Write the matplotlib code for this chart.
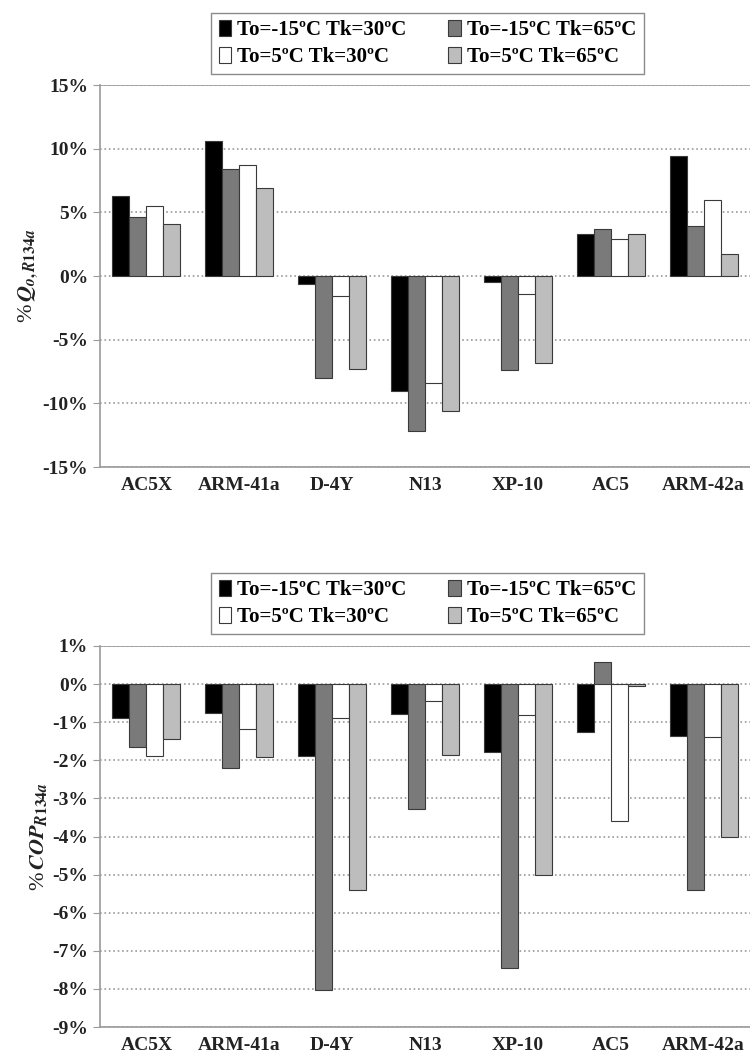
import numpy as np
import matplotlib
matplotlib.use('Agg')
import matplotlib.pyplot as plt
from matplotlib.ticker import FuncFormatter, MultipleLocator

# datos
refrigerantes = ['AC5X', 'ARM-41a', 'D-4Y', 'N13', 'XP-10', 'AC5', 'ARM-42a']
series = ['To=-15ºC Tk=30ºC', 'To=-15ºC Tk=65ºC', 'To=5ºC Tk=30ºC', 'To=5ºC Tk=65ºC']

# %Q_o respecto a R134a
q_m15_30 = [6.3, 10.6, -0.6, -9.0, -0.5, 3.3, 9.4]
q_m15_65 = [4.6, 8.4, -8.0, -12.2, -7.4, 3.7, 3.9]
q_5_30 = [5.5, 8.7, -1.6, -8.4, -1.4, 2.9, 6.0]
q_5_65 = [4.1, 6.9, -7.3, -10.6, -6.8, 3.3, 1.7]

# %COP respecto a R134a
cop_m15_30 = [-0.89, -0.76, -1.89, -0.78, -1.77, -1.26, -1.37]
cop_m15_65 = [-1.64, -2.21, -8.04, -3.29, -7.44, 0.59, -5.40]
cop_5_30 = [-1.90, -1.19, -0.89, -0.44, -0.80, -3.58, -1.39]
cop_5_65 = [-1.44, -1.92, -5.40, -1.86, -5.00, -0.05, -4.00]

colores = ['#000000', '#7a7a7a', '#ffffff', '#bdbdbd']

plt.rcParams['font.family'] = ['Liberation Serif', 'DejaVu Serif']
plt.rcParams['font.weight'] = 'bold'
plt.rcParams['mathtext.fontset'] = 'stix'

fig = plt.figure(figsize=(7.5, 10.55), dpi=100)
ax1 = fig.add_axes([0.1333, 0.5573, 0.8667, 0.3621])
ax2 = fig.add_axes([0.1333, 0.0265, 0.8667, 0.3612])

x = np.arange(len(refrigerantes))
ancho = 0.183


def dibujar(ax, datos, ylim, paso, ylabel):
    barras = []
    for i, (vals, c) in enumerate(zip(datos, colores)):
        b = ax.bar(x + (i - 1.5) * ancho, vals, ancho, color=c,
                   edgecolor='#3a3a3a', linewidth=0.8, zorder=3)
        barras.append(b)
    ax.set_xlim(-0.5, len(refrigerantes) - 0.5)
    ax.set_ylim(*ylim)
    ax.yaxis.set_major_locator(MultipleLocator(paso))
    ax.yaxis.set_major_formatter(FuncFormatter(lambda v, p: '%d%%' % round(v)))
    ax.set_xticks(x)
    ax.set_xticklabels(refrigerantes)
    ax.grid(axis='y', linestyle=':', color='#9a9a9a', linewidth=1.2, zorder=0)
    for s in ['top', 'right']:
        ax.spines[s].set_visible(False)
    for s in ['left', 'bottom']:
        ax.spines[s].set_color('#9a9a9a')
        ax.spines[s].set_linewidth(1.2)
    ax.axhline(ylim[1], color='#9a9a9a', linewidth=1.2, zorder=1)
    ax.tick_params(axis='x', length=0, labelsize=14, pad=7, colors='#222222')
    ax.tick_params(axis='y', length=5, color='#9a9a9a', labelsize=14, colors='#222222')
    ax.set_ylabel(ylabel, fontsize=16, color='#222222', labelpad=2)
    return barras


b1 = dibujar(ax1, [q_m15_30, q_m15_65, q_5_30, q_5_65], (-15, 15), 5,
             r'%$\,Q_{o,R134a}$')
b2 = dibujar(ax2, [cop_m15_30, cop_m15_65, cop_5_30, cop_5_65], (-9, 1), 1,
             r'%$\,COP_{R134a}$')

orden = [0, 2, 1, 3]
for ax, b, y0 in [(ax1, b1, 0.9877), (ax2, b2, 0.4569)]:
    leg = fig.legend([b[i] for i in orden], [series[i] for i in orden],
                     loc='upper center', bbox_to_anchor=(0.57, y0), ncol=2,
                     fancybox=False, edgecolor='#8a8a8a', fontsize=15,
                     handlelength=0.6, handleheight=0.8, handletextpad=0.3,
                     columnspacing=2.0, labelspacing=0.3, borderpad=0.35,
                     borderaxespad=0, framealpha=1)
    leg.get_frame().set_linewidth(1.0)

fig.savefig('out.png', dpi=100)
